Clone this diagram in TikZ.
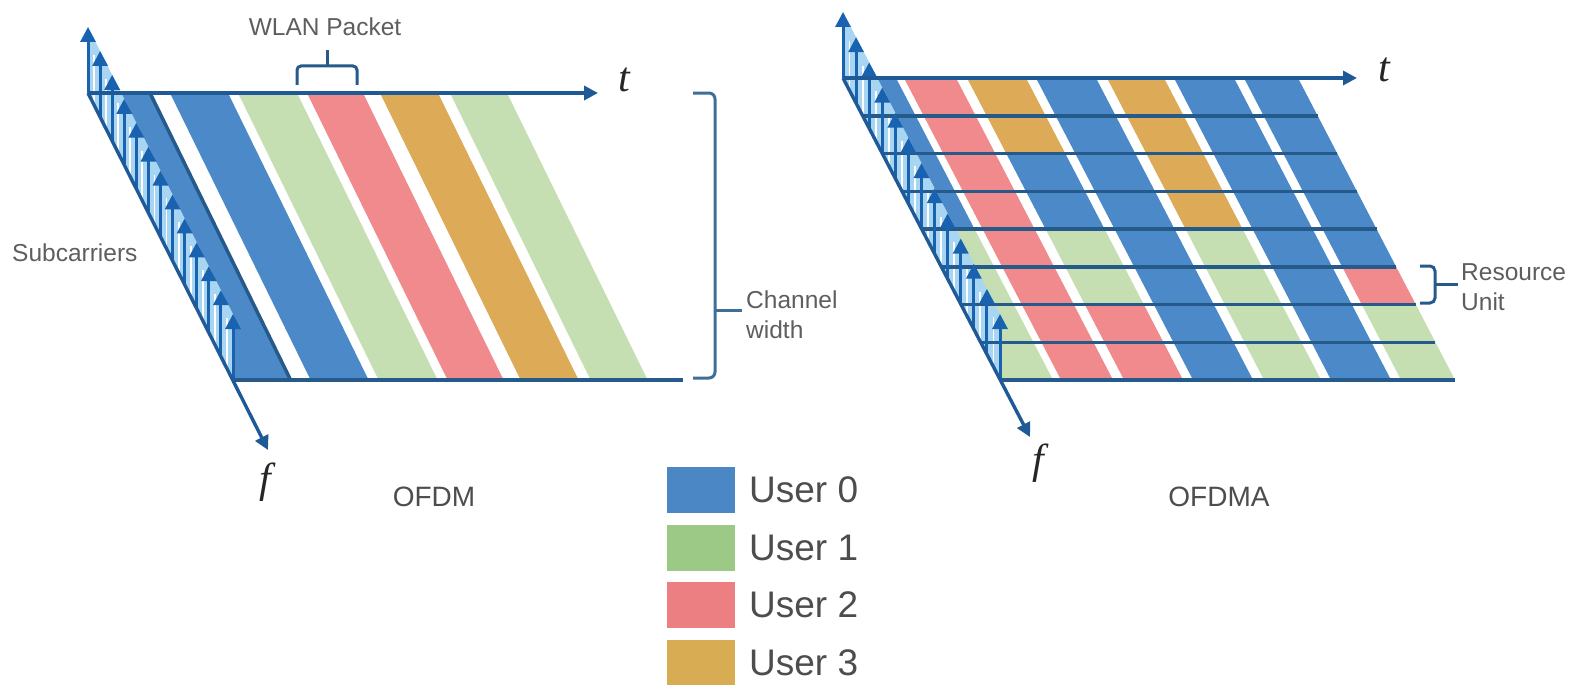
\documentclass[tikz,border=0pt]{standalone}
\usepackage{fontspec}
\setmainfont{Liberation Sans}
\newfontfamily\axfont{Liberation Serif}
\usetikzlibrary{arrows.meta}
\definecolor{cB}{HTML}{4B89C8}
\definecolor{cN}{HTML}{C6DFB2}
\definecolor{cR}{HTML}{F08A8C}
\definecolor{cY}{HTML}{DDAB57}
\definecolor{lgB}{HTML}{4A87C4}
\definecolor{lgN}{HTML}{9CC985}
\definecolor{lgR}{HTML}{EC7F81}
\definecolor{lgY}{HTML}{D7AC52}
\definecolor{axiscol}{HTML}{1F5A96}
\definecolor{subcol}{HTML}{1862B0}
\definecolor{rowline}{HTML}{255A8A}
\definecolor{brk}{HTML}{3F6E96}
\definecolor{colfill}{HTML}{A8D6F2}
\definecolor{labgray}{HTML}{5E5E5E}
\definecolor{leggray}{HTML}{4D4D4D}
\tikzset{
  axisline/.style={draw=axiscol, line width=3.4pt, -{Triangle[width=14pt,length=14pt]}},
  subarrow/.style={draw=subcol, line width=3pt, -{Triangle[width=15pt,length=15pt]}},
  gridline/.style={draw=rowline, line width=3.5pt},
  bracketline/.style={draw=brk, line width=3pt, rounded corners=6pt},
  lab/.style={text=labgray, font=\fontsize{24.5}{30}\selectfont, inner sep=0pt},
  axlab/.style={font=\axfont\itshape\fontsize{42}{42}\selectfont, text=black!85, inner sep=0pt},
  titlelab/.style={text=leggray, font=\fontsize{28}{32}\selectfont, inner sep=0pt},
  legbox/.style={minimum width=68pt, minimum height=46pt, inner sep=0pt},
  legtext/.style={text=leggray, font=\fontsize{37}{40}\selectfont, inner sep=0pt, anchor=west},
}
\begin{document}
\begin{tikzpicture}[x=1pt,y=-1pt]
\useasboundingbox[fill=white] (0,0) rectangle (1580,685);
\clip (0,0) rectangle (1580,685);

% ================= LEFT: OFDM =================
\fill[cB] (88,93) -- (150,93) -- (290.6,380) -- (233,380) -- cycle;
\foreach \a/\b/\c in {170/228/cB, 238/297/cN, 307/363/cR, 380/438/cY, 450/507/cN}
  \fill[\c] (\a,93) -- (\b,93) -- (\b+140.6,380) -- (\a+140.6,380) -- cycle;
% subcarrier column
\fill[colfill] (88,93) -- (233,380) -- (233,314) -- (88,27) -- cycle;
\foreach \i in {0,...,11}
  \draw[white, line width=1.8pt] ({88+(\i+0.5)*145/12},{93+(\i+0.5)*287/12}) -- ++(0,-50);
\draw[gridline] (150,93) -- (290.6,380);
\coordinate (oL) at (88,93);
\coordinate (tLend) at (598,93);
\coordinate (fLend) at (268,450);
\coordinate (bL1) at (233,380);
\coordinate (bL2) at (683,380);
\draw[gridline] (bL1) -- (bL2);
\foreach \i in {0,...,12}
  \draw[subarrow] ({88+\i*145/12},{93+\i*287/12}) -- ++(0,-66);
\draw[axisline] (oL) -- (tLend);
\draw[axisline] (oL) -- (fLend);
\node[axlab] (tL) at (624,80) {t};
\node[axlab] (fL) at (265,482) {f};
% WLAN packet brace
\draw[bracketline, draw=rowline, rounded corners=4pt] (297,85) -- (297,66) -- (357,66) -- (357,85);
\draw[bracketline, draw=rowline] (327,66) -- (327,50);
\node[lab] (wlan) at (325,27) {WLAN Packet};
% channel width bracket
\draw[bracketline] (693,93) -- (715,93) -- (715,378) -- (693,378);
\draw[bracketline] (715,310) -- (742,310);
\node[lab, anchor=west, align=left] (chw) at (746,315) {Channel\\width};
\node[lab, anchor=west] (subc) at (12,253) {Subcarriers};
\node[titlelab] (ofdm) at (434,497) {OFDM};

% ================= RIGHT: OFDMA =================
\foreach \r/\cols in {0/{B,R,Y,B,Y,B,B},1/{B,R,Y,B,Y,B,B},2/{B,R,B,B,Y,B,B},3/{B,R,B,B,Y,B,B},
                      4/{N,R,N,B,N,B,B},5/{N,R,N,B,N,B,R},6/{N,R,R,B,N,B,N},7/{N,R,R,B,N,B,N}}{
  \foreach \k [count=\c from 0] in \cols {
    \pgfmathsetmacro\ya{78+\r*37.75}
    \pgfmathsetmacro\yb{\ya+37.75}
    \pgfmathsetmacro\xl{{843,904,967,1036,1107,1174,1244}[\c]}
    \pgfmathsetmacro\xr{{896,956,1026,1096,1164,1234,1298}[\c]}
    \fill[c\k] ({\xl+0.52*(\ya-78)},\ya) -- ({\xr+0.52*(\ya-78)},\ya)
       -- ({\xr+0.52*(\yb-78)},\yb) -- ({\xl+0.52*(\yb-78)},\yb) -- cycle;
  }
}
\fill[colfill] (843,78) -- (1000,380) -- (1000,314) -- (843,12) -- cycle;
\foreach \i in {0,...,11}
  \draw[white, line width=1.8pt] ({843+(\i+0.5)*157/12},{78+(\i+0.5)*302/12}) -- ++(0,-50);
\foreach \r in {1,...,8}{
  \pgfmathsetmacro\yy{78+\r*37.75}
  \draw[gridline] ({843+0.52*(\yy-78)},\yy) -- ({1298+0.52*(\yy-78)},\yy);
}
\foreach \i in {0,...,12}
  \draw[subarrow] ({843+\i*157/12},{78+\i*302/12}) -- ++(0,-66);
\coordinate (oR) at (843,78);
\coordinate (tRend) at (1357,78);
\coordinate (fRend) at (1030,437);
\draw[axisline] (oR) -- (tRend);
\draw[axisline] (oR) -- (fRend);
\node[axlab] (tR) at (1384,70) {t};
\node[axlab] (fR) at (1038,463) {f};
% resource unit brace
\draw[bracketline, draw=rowline, rounded corners=5pt] (1420,266) -- (1435,266) -- (1435,303) -- (1420,303);
\draw[bracketline, draw=rowline] (1435,284) -- (1458,284);
\node[lab, anchor=west, align=left] (ru) at (1461,287) {Resource\\Unit};
\node[titlelab] (ofdma) at (1219,497) {OFDMA};

% ================= LEGEND =================
\foreach \col/\txt [count=\i from 0] in {lgB/User 0, lgN/User 1, lgR/User 2, lgY/User 3}{
  \node[legbox, fill=\col] (box\i) at (701,{490+\i*57.5}) {};
  \node[legtext] (leg\i) at (749,{490+\i*57.5}) {\txt};
}
\end{tikzpicture}
\end{document}
